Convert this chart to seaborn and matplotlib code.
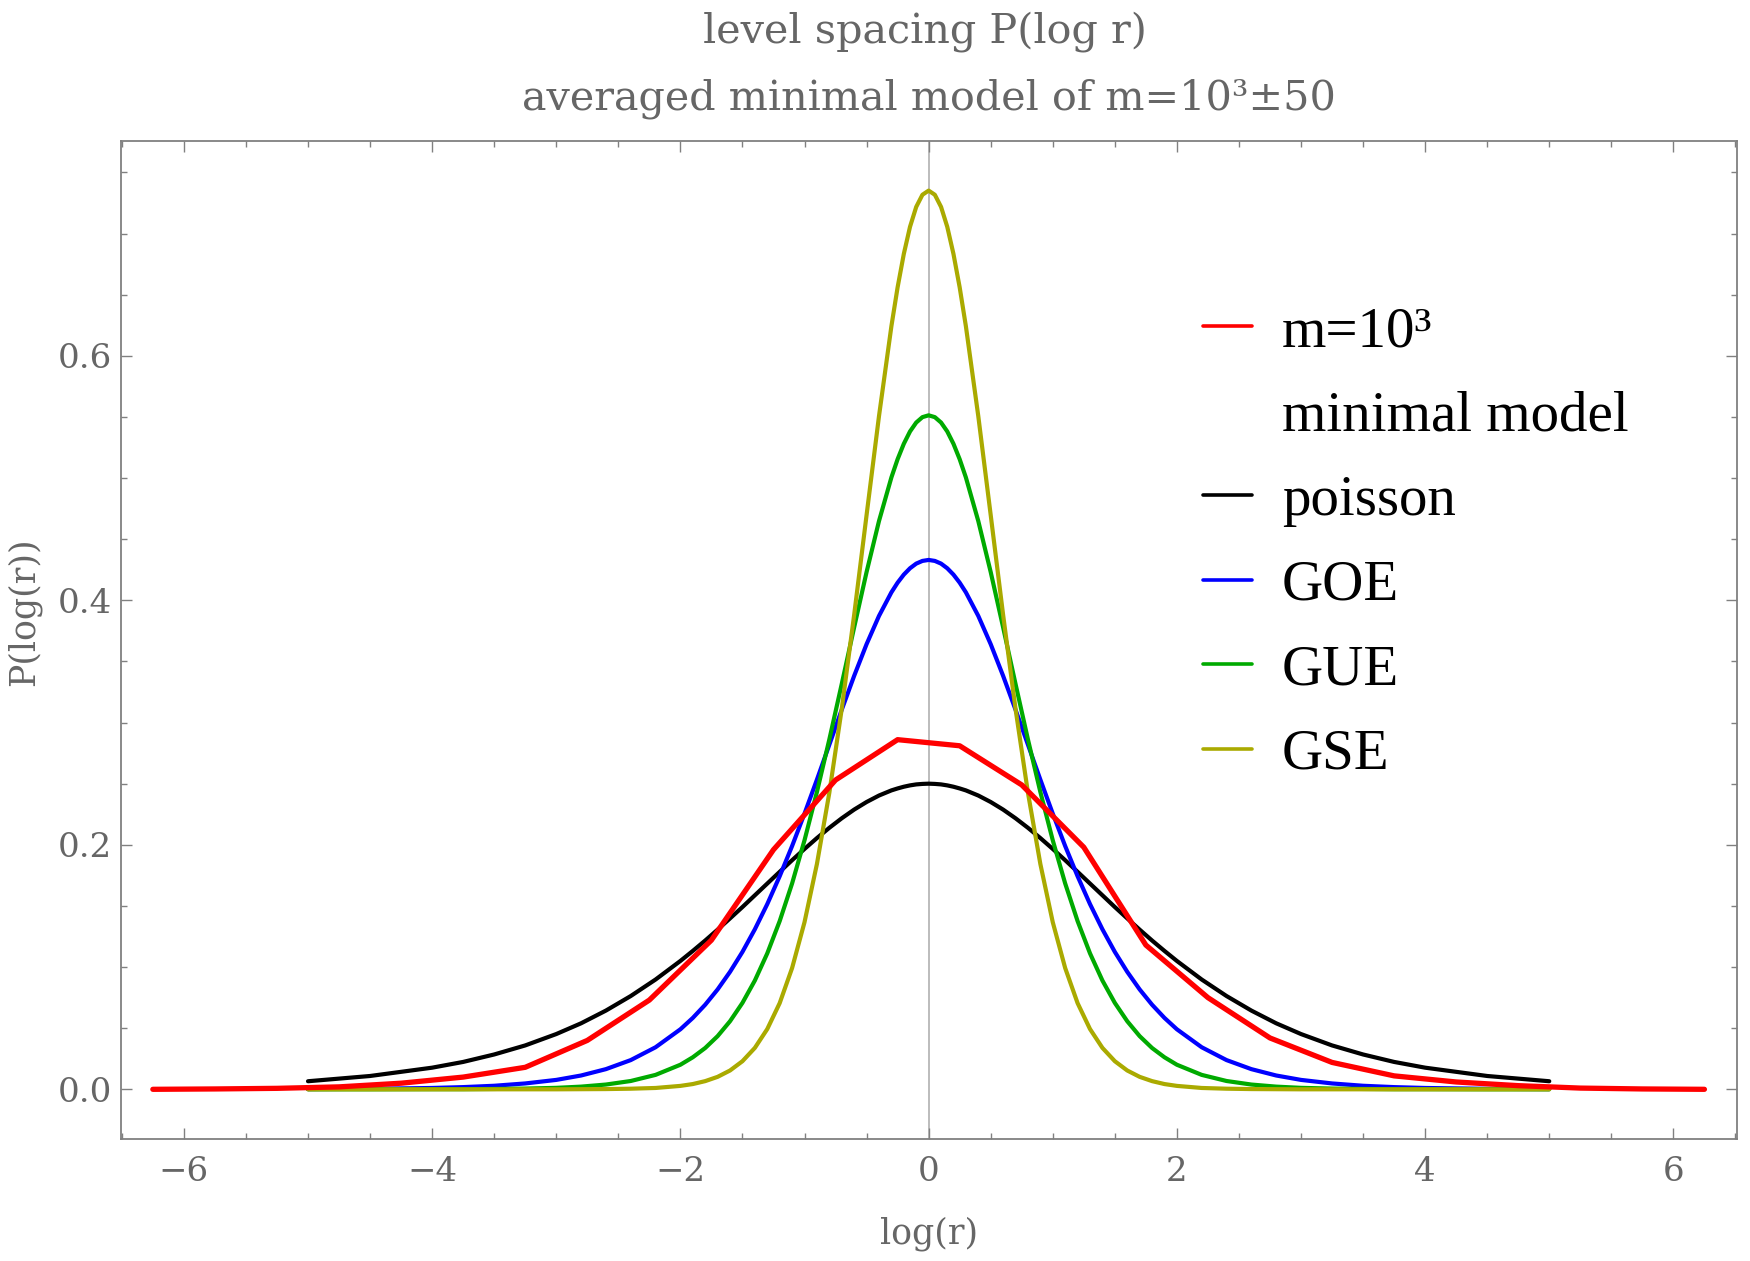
import numpy as np
import pandas as pd
import seaborn as sns
import matplotlib.pyplot as plt
import matplotlib.ticker as mtick
from matplotlib.lines import Line2D

# DADOS LIDOS DO GRAFICO
# histograma do modelo minimo (centros dos bins)
x_modelo = [-6.25, -5.75, -5.25, -4.75, -4.25, -3.75, -3.25, -2.75, -2.25, -1.75, -1.25, -0.75, -0.25,
            0.25, 0.75, 1.25, 1.75, 2.25, 2.75, 3.25, 3.75, 4.25, 4.75, 5.25, 5.75, 6.25]
p_modelo = [0.0, 0.0003, 0.0008, 0.002, 0.005, 0.010, 0.018, 0.040, 0.073, 0.122, 0.196, 0.253, 0.286,
            0.281, 0.249, 0.198, 0.118, 0.075, 0.042, 0.022, 0.011, 0.006, 0.003, 0.001, 0.0003, 0.0]

# curvas teoricas
x_teoria = [-5.0, -4.5, -4.0, -3.75, -3.5, -3.25, -3.0, -2.8, -2.6, -2.4, -2.2, -2.0, -1.9, -1.8, -1.7,
            -1.6, -1.5, -1.4, -1.3, -1.2, -1.1, -1.0, -0.9, -0.8, -0.7, -0.6, -0.5, -0.4, -0.3, -0.25,
            -0.2, -0.15, -0.1, -0.05, 0.0, 0.05, 0.1, 0.15, 0.2, 0.25, 0.3, 0.4, 0.5, 0.6, 0.7, 0.8,
            0.9, 1.0, 1.1, 1.2, 1.3, 1.4, 1.5, 1.6, 1.7, 1.8, 1.9, 2.0, 2.2, 2.4, 2.6, 2.8, 3.0, 3.25,
            3.5, 3.75, 4.0, 4.5, 5.0]
p_poisson = [0.0066, 0.0109, 0.0177, 0.0224, 0.0285, 0.0359, 0.0452, 0.0540, 0.0644, 0.0763, 0.0898,
             0.1050, 0.1132, 0.1217, 0.1306, 0.1398, 0.1491, 0.1587, 0.1683, 0.1779, 0.1874, 0.1966,
             0.2055, 0.2139, 0.2217, 0.2288, 0.2350, 0.2403, 0.2445, 0.2461, 0.2475, 0.2486, 0.2494,
             0.2498, 0.25, 0.2498, 0.2494, 0.2486, 0.2475, 0.2461, 0.2445, 0.2403, 0.2350, 0.2288,
             0.2217, 0.2139, 0.2055, 0.1966, 0.1874, 0.1779, 0.1683, 0.1587, 0.1491, 0.1398, 0.1306,
             0.1217, 0.1132, 0.1050, 0.0898, 0.0763, 0.0644, 0.0540, 0.0452, 0.0359, 0.0285, 0.0224,
             0.0177, 0.0109, 0.0066]
p_goe = [0.0002, 0.0004, 0.0011, 0.0018, 0.0029, 0.0048, 0.0077, 0.0113, 0.0165, 0.0239, 0.0344,
         0.0491, 0.0584, 0.0692, 0.0817, 0.0961, 0.1124, 0.1309, 0.1515, 0.1743, 0.1990, 0.2255,
         0.2533, 0.2819, 0.3105, 0.3382, 0.3641, 0.3872, 0.4065, 0.4144, 0.4210, 0.4262, 0.4300,
         0.4322, 0.4330, 0.4322, 0.4300, 0.4262, 0.4210, 0.4144, 0.4065, 0.3872, 0.3641, 0.3382,
         0.3105, 0.2819, 0.2533, 0.2255, 0.1990, 0.1743, 0.1515, 0.1309, 0.1124, 0.0961, 0.0817,
         0.0692, 0.0584, 0.0491, 0.0344, 0.0239, 0.0165, 0.0113, 0.0077, 0.0048, 0.0029, 0.0018,
         0.0011, 0.0004, 0.0002]
p_gue = [0.0, 0.0, 0.0001, 0.0001, 0.0003, 0.0006, 0.0012, 0.0022, 0.0039, 0.0068, 0.0118,
         0.0201, 0.0262, 0.0338, 0.0435, 0.0557, 0.0707, 0.0890, 0.1112, 0.1376, 0.1684, 0.2037,
         0.2432, 0.2862, 0.3316, 0.3779, 0.4231, 0.4648, 0.5005, 0.5154, 0.5280, 0.5381, 0.5454,
         0.5498, 0.5513, 0.5498, 0.5454, 0.5381, 0.5280, 0.5154, 0.5005, 0.4648, 0.4231, 0.3779,
         0.3316, 0.2862, 0.2432, 0.2037, 0.1684, 0.1376, 0.1112, 0.0890, 0.0707, 0.0557, 0.0435,
         0.0338, 0.0262, 0.0201, 0.0118, 0.0068, 0.0039, 0.0022, 0.0012, 0.0006, 0.0003, 0.0001,
         0.0001, 0.0, 0.0]
p_gse = [0.0, 0.0, 0.0, 0.0, 0.0, 0.0, 0.0, 0.0001, 0.0002, 0.0005, 0.0011,
         0.0028, 0.0043, 0.0067, 0.0102, 0.0154, 0.0230, 0.0339, 0.0493, 0.0705, 0.0992, 0.1367,
         0.1843, 0.2426, 0.3112, 0.3881, 0.4697, 0.5506, 0.6242, 0.6560, 0.6833, 0.7055, 0.7218,
         0.7317, 0.7351, 0.7317, 0.7218, 0.7055, 0.6833, 0.6560, 0.6242, 0.5506, 0.4697, 0.3881,
         0.3112, 0.2426, 0.1843, 0.1367, 0.0992, 0.0705, 0.0493, 0.0339, 0.0230, 0.0154, 0.0102,
         0.0067, 0.0043, 0.0028, 0.0011, 0.0005, 0.0002, 0.0001, 0.0, 0.0, 0.0, 0.0,
         0.0, 0.0, 0.0]

legenda = ["m=10³", "minimal model", "poisson", "GOE", "GUE", "GSE"]

# ESTILO
sns.set_style("ticks")
plt.rcParams['font.family'] = ['DejaVu Serif', 'DejaVu Sans']
CINZA = '#666666'
VERDE = '#00aa00'
OLIVA = '#aaaa00'

fig = plt.figure(figsize=(17.5, 12.61), dpi=100)
ax = fig.add_axes([0.0689, 0.0964, 0.9235, 0.7921])

ax.axvline(0, color='#b0b0b0', lw=1.2, zorder=0)

df_teoria = pd.DataFrame({'x': x_teoria, 'poisson': p_poisson, 'GOE': p_goe, 'GUE': p_gue, 'GSE': p_gse})
sns.lineplot(data=df_teoria, x='x', y='poisson', color='black', lw=3.0, ax=ax)
sns.lineplot(data=df_teoria, x='x', y='GOE', color='blue', lw=3.0, ax=ax)
sns.lineplot(data=df_teoria, x='x', y='GUE', color=VERDE, lw=3.0, ax=ax)
sns.lineplot(data=df_teoria, x='x', y='GSE', color=OLIVA, lw=3.0, ax=ax)
sns.lineplot(x=x_modelo, y=p_modelo, color='red', lw=3.8, ax=ax)

ax.set_xlim(-6.51, 6.51)
ax.set_ylim(-0.041, 0.776)

ax.xaxis.set_major_locator(mtick.FixedLocator([-6, -4, -2, 0, 2, 4, 6]))
ax.xaxis.set_minor_locator(mtick.MultipleLocator(0.5))
ax.yaxis.set_major_locator(mtick.FixedLocator([0.0, 0.2, 0.4, 0.6]))
ax.yaxis.set_minor_locator(mtick.MultipleLocator(0.05))
ax.yaxis.set_major_formatter(mtick.FormatStrFormatter('%.1f'))
ax.tick_params(which='both', direction='in', top=True, right=True, color='#808080',
               labelcolor=CINZA, labelsize=24.5, width=1.0)
ax.tick_params(which='major', length=8)
ax.tick_params(which='minor', length=4.5)
ax.tick_params(axis='x', pad=12)
ax.tick_params(axis='y', pad=6)
for s in ax.spines.values():
    s.set_color('#808080')
    s.set_linewidth(1.3)

ax.set_xlabel("log(r)", fontsize=25, color=CINZA)
ax.set_ylabel("P(log(r))", fontsize=25, color=CINZA)
ax.xaxis.set_label_coords(0.5, -0.094)
ax.yaxis.set_label_coords(-0.060, 0.528)
ax.xaxis.label.set_va('center')
ax.yaxis.label.set_va('center')

fig.text(0.5286, 1 - 32 / 1261, "level spacing P(log r)", ha='center', va='center',
         fontsize=29.8, color=CINZA)
fig.text(0.531, 1 - 99 / 1261, "averaged minimal model of m=10³±50", ha='center', va='center',
         fontsize=29.8, color=CINZA)

# LEGENDA
alcas = [Line2D([], [], color='red', lw=2.6),
         Line2D([], [], color='none'),
         Line2D([], [], color='black', lw=2.6),
         Line2D([], [], color='blue', lw=2.6),
         Line2D([], [], color=VERDE, lw=2.6),
         Line2D([], [], color=OLIVA, lw=2.6)]
ax.legend(alcas, legenda, loc='upper left', bbox_to_anchor=(0.67, 0.834), frameon=False,
          prop={'family': 'Liberation Serif', 'size': 41}, handlelength=0.86, handletextpad=0.52,
          labelspacing=0.57, borderaxespad=0, borderpad=0, labelcolor='black')

fig.savefig("out.png", dpi=100)
plt.close(fig)
